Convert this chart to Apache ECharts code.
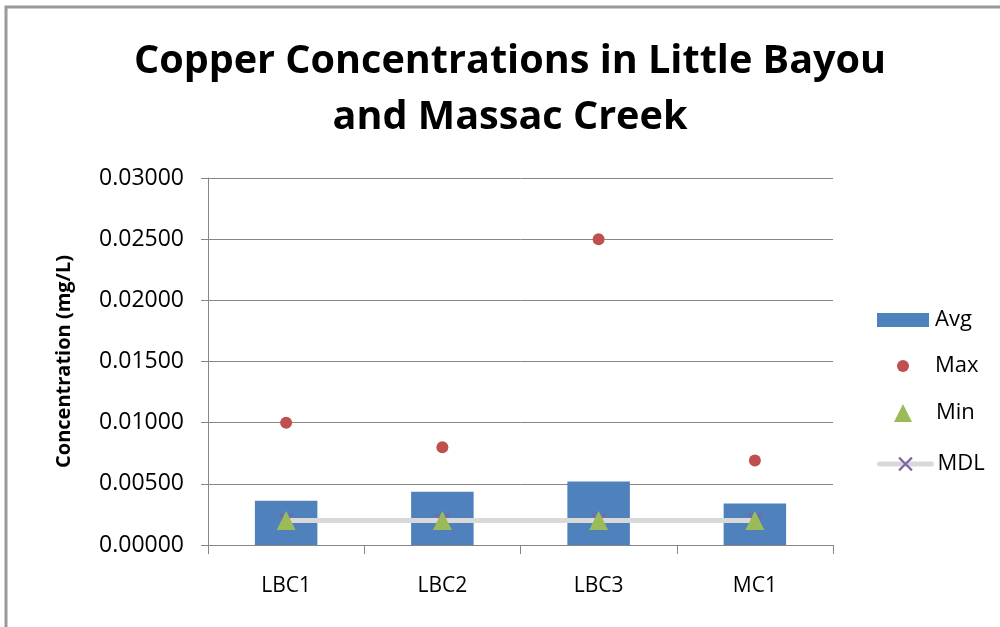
<!DOCTYPE html>
<html>
<head>
<meta charset="utf-8">
<script src="https://cdn.jsdelivr.net/npm/echarts@6/dist/echarts.min.js"></script>
<style>html,body{margin:0;padding:0;background:#fff}#c{width:1000px;height:627px}</style>
</head>
<body>
<div id="c"></div>
<script>
const categories = ['LBC1', 'LBC2', 'LBC3', 'MC1'];
const avgValues = [0.00362, 0.00436, 0.00520, 0.00340];
const maxValues = [0.0100, 0.0080, 0.0250, 0.0069];
const minValues = [0.0020, 0.0020, 0.0020, 0.0020];
const mdlValues = [0.0020, 0.0020, 0.0020, 0.0020];
const yTickFormat = v => v.toFixed(5);

const font = '"Open Sans", Lato, sans-serif';
const xMark = 'path://M0,1.1L1.1,0L5,3.9L8.9,0L10,1.1L6.1,5L10,8.9L8.9,10L5,6.1L1.1,10L0,8.9L3.9,5Z';

function legendAt(name, centerY, left, w, h, icon, padLeft, extra) {
  return Object.assign({
    data: [icon ? {name: name, icon: icon} : name],
    orient: 'vertical', left: left, top: centerY - 13, padding: 0,
    itemWidth: w, itemHeight: h, itemGap: 0, selectedMode: false,
    textStyle: {fontFamily: font, fontSize: 22, lineHeight: 26, color: '#000', padding: [0, 0, 0, padLeft || 0]}
  }, extra || {});
}

const chart = echarts.init(document.getElementById('c'));
chart.setOption({
  animation: false,
  backgroundColor: '#fff',
  title: {
    text: 'Copper Concentrations in Little Bayou\nand Massac Creek',
    left: 505, top: 29, textAlign: 'center',
    textStyle: {fontFamily: font, fontSize: 39.6, fontWeight: 'bold', color: '#000', lineHeight: 56}
  },
  graphic: [
    {type: 'rect', shape: {x: 6, y: 7, width: 1100, height: 700}, style: {fill: 'none', stroke: '#9a9a9a', lineWidth: 3}, silent: true, z: -1}
  ],
  legend: [
    legendAt('Avg', 320, 877, 52, 14, 'rect', 1),
    legendAt('Max', 366, 897, 12, 12, 'circle', 21),
    legendAt('Min', 413, 894, 18, 18, 'triangle', 19),
    legendAt('MDL', 464, 877, 52, 18, null, 1,
      {lineStyle: {width: 5, color: '#d9d9d9', cap: 'round'}, itemStyle: {color: '#8064a2'}})
  ],
  grid: {left: 208, right: 167, top: 178, bottom: 82, containLabel: false},
  xAxis: {
    type: 'category', data: categories,
    axisLine: {lineStyle: {color: '#868686', width: 1}},
    axisTick: {show: true, alignWithLabel: false, length: 9, lineStyle: {color: '#868686'}},
    axisLabel: {fontFamily: font, fontSize: 21, color: '#000', margin: 31}
  },
  yAxis: {
    type: 'value', min: 0, max: 0.03, interval: 0.005,
    name: 'Concentration (mg/L)', nameLocation: 'middle', nameGap: 134,
    nameTextStyle: {fontFamily: font, fontSize: 20, fontWeight: 'bold', color: '#000'},
    axisLine: {show: true, lineStyle: {color: '#868686', width: 1}},
    axisTick: {show: true, length: 7, lineStyle: {color: '#868686'}},
    axisLabel: {fontFamily: font, fontSize: 23, color: '#000', margin: 24, formatter: yTickFormat},
    splitLine: {lineStyle: {color: '#868686', width: 1}}
  },
  series: [
    {name: 'Avg', type: 'bar', data: avgValues, barWidth: '40%',
     itemStyle: {color: '#4f81bd'}, z: 1},
    {name: 'Max', type: 'scatter', data: maxValues, symbol: 'circle', symbolSize: 12,
     itemStyle: {color: '#c0504d', opacity: 1}, z: 5},
    {name: 'MDL', type: 'line', data: mdlValues, symbol: xMark, symbolSize: 15, showSymbol: true,
     lineStyle: {color: '#d9d9d9', width: 5}, itemStyle: {color: '#8064a2'}, z: 3},
    {name: 'Min', type: 'scatter', data: minValues, symbol: 'triangle', symbolSize: [19, 19],
     itemStyle: {color: '#9bbb59', opacity: 1}, z: 6}
  ]
});
</script>
</body>
</html>
